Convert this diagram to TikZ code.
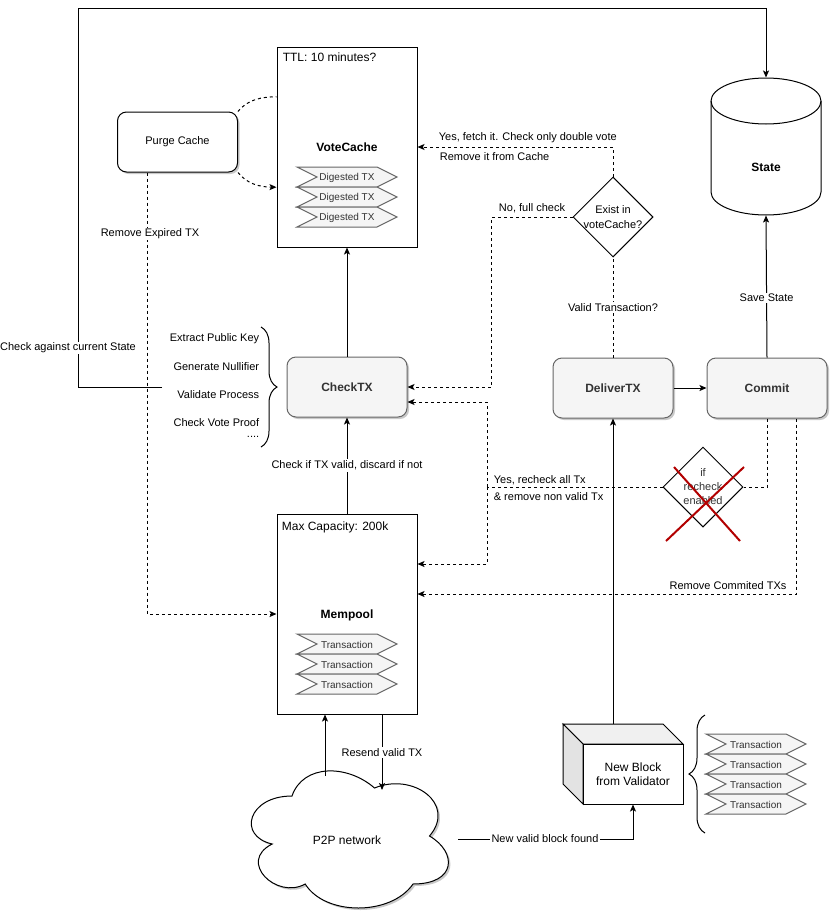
\documentclass[tikz,border=0pt]{standalone}
\usepackage{fontspec}
\setmainfont{Liberation Sans}
\usetikzlibrary{arrows.meta,shapes.geometric,shadows,decorations.pathreplacing,calc}
\definecolor{boxgray}{HTML}{F5F5F5}
\definecolor{edgegray}{HTML}{666666}
\definecolor{txtgray}{HTML}{333333}
\definecolor{xred}{HTML}{B20000}
\definecolor{cubetopc}{HTML}{F0F0F0}
\definecolor{cubeleftc}{HTML}{E3E3E3}
\newcommand{\lblfont}{\fontsize{8.25pt}{10.5pt}\selectfont}
\newcommand{\mainfontsz}{\fontsize{9pt}{10.5pt}\selectfont}
\newcommand{\boldfnt}{\fontsize{9pt}{10.5pt}\selectfont\bfseries}
\newcommand{\stepfnt}{\fontsize{7.5pt}{9pt}\selectfont}
\newcommand{\txstep}[4]{%
  \draw[draw=edgegray, fill=boxgray] (#2,#3) -- ++(80,0) -- ++(20,10) -- ++(-20,10) -- ++(-80,0) -- ++(20,-10) -- cycle;
  \node[font=\stepfnt, text=txtgray, inner sep=0pt] (#1) at (#2+50,#3+11) {#4};}
\begin{document}
\begin{tikzpicture}[x=0.75pt,y=-0.75pt,line width=0.75pt,
  lbl/.style={font=\lblfont, inner sep=1pt},
  lblbg/.style={lbl, fill=white},
  arr/.style={-{Stealth[length=5.25pt,width=4.5pt,inset=1.2pt]}},
  dsh/.style={dash pattern=on 2.25pt off 2.25pt},
  shd/.style={drop shadow={shadow xshift=1.5pt,shadow yshift=-1.5pt,opacity=0.3,fill=black!70}},
  bigbox/.style={draw, fill=white, minimum width=105pt, minimum height=150pt, inner sep=0pt},
  procbox/.style={draw=edgegray, fill=boxgray, rounded corners=6.75pt, minimum width=90pt, minimum height=45pt, inner sep=0pt, text=txtgray, font=\boldfnt, shd},
  purgebox/.style={draw, fill=white, rounded corners=6.75pt, minimum width=90pt, minimum height=45pt, inner sep=0pt, font=\lblfont, shd},
  decision/.style={diamond, draw, fill=white, minimum width=60pt, minimum height=60pt, inner sep=0pt, aspect=1},
  bracefx/.style={decorate, decoration={brace, amplitude=12pt}}
]
\useasboundingbox (0,0) rectangle (829,918);

% ---------- main boxes ----------
\node[bigbox] (votecache) at (347,147) {};
\node[font=\mainfontsz, inner sep=1pt, anchor=west] (ttl) at (281,57) {TTL: 10 minutes?};
\node[font=\boldfnt] (vctxt) at (347,147) {VoteCache};
\txstep{dg1}{297}{167}{Digested TX}
\txstep{dg2}{297}{187}{Digested TX}
\txstep{dg3}{297}{207}{Digested TX}

\node[bigbox] (mempool) at (347,614) {};
\node[font=\mainfontsz, inner sep=1pt, anchor=west] (cap) at (280,527) {Max Capacity: 200k};
\node[font=\boldfnt] (mptxt) at (347,615) {Mempool};
\txstep{mt1}{297}{634}{Transaction}
\txstep{mt2}{297}{654}{Transaction}
\txstep{mt3}{297}{674}{Transaction}

\node[purgebox] (purge) at (177.5,142) {Purge Cache};
\node[procbox] (checktx) at (347,387) {CheckTX};
\node[procbox] (deliver) at (613,388) {DeliverTX};
\node[procbox] (commit) at (767,388) {Commit};

% ---------- State cylinder ----------
\node[minimum width=82.5pt, minimum height=102.75pt, inner sep=0pt] (state) at (766,146.5) {};
\draw[fill=white] (711,101) .. controls (711,88.3) and (735.6,78) .. (766,78)
  .. controls (796.4,78) and (821,88.3) .. (821,101) -- (821,192)
  .. controls (821,204.7) and (796.4,215) .. (766,215)
  .. controls (735.6,215) and (711,204.7) .. (711,192) -- cycle;
\draw (711,101) .. controls (711,113.7) and (735.6,124) .. (766,124)
  .. controls (796.4,124) and (821,113.7) .. (821,101);
\node[font=\boldfnt] (statetxt) at (766,167) {State};

% ---------- decisions ----------
\node[decision] (exist) at (613,217) {};
\node[lbl, align=center, font=\fontsize{8.25pt}{11.25pt}\selectfont] (existtxt) at (exist.center) {Exist in\\voteCache?};
\node[decision] (recheck) at (703,487) {};
\node[lbl, align=center, text=txtgray] (rechecktxt) at (recheck.center) {if\\recheck\\enabled};
\draw[xred, line width=1.5pt] (666,541) -- (744,467);
\draw[xred, line width=1.5pt] (674,467) -- (740,541);

% ---------- brace + check labels ----------
\draw[bracefx] (261,327) -- (261,447);
\node[lbl, anchor=east] (l1) at (261,339) {Extract Public Key};
\node[lbl, anchor=east] (l2) at (261,367) {Generate Nullifier};
\node[lbl, anchor=east] (l3) at (261,395) {Validate Process};
\node[lbl, anchor=east] (l4) at (261,423) {Check Vote Proof};
\node[lbl, anchor=east] (l5) at (261,437) {....};

% ---------- new block cube ----------
\draw[fill=cubetopc] (563,724) -- (663,724) -- (683,744) -- (583,744) -- cycle;
\draw[fill=cubeleftc] (563,724) -- (583,744) -- (583,804) -- (563,784) -- cycle;
\node[draw, fill=white, minimum width=75pt, minimum height=45pt, inner sep=0pt, align=center, font=\mainfontsz] (nb) at (633,774) {New Block\\from Validator};
\coordinate (blocktop) at (613,724);

\draw[bracefx] (705,833) -- (705,715);
\txstep{bt1}{706}{734}{Transaction}
\txstep{bt2}{706}{754}{Transaction}
\txstep{bt3}{706}{774}{Transaction}
\txstep{bt4}{706}{794}{Transaction}

% ---------- cloud ----------
\path[draw, fill=white, shd] (292,796) .. controls (248,796) and (237,836) .. (272.2,844)
  .. controls (237,861.6) and (276.6,900) .. (305.2,884)
  .. controls (325,916) and (391,916) .. (413,884)
  .. controls (457,884) and (457,852) .. (429.5,836)
  .. controls (457,804) and (413,772) .. (374.5,788)
  .. controls (347,764) and (303,764) .. (292,796) -- cycle;
\node[font=\mainfontsz] (p2p) at (347,840) {P2P network};
\coordinate (cloudA) at (325,776);
\coordinate (cloudB) at (382,790);
\coordinate (cloudR) at (458,839);

% ---------- connectors ----------
\draw[arr] (checktx.north) -- (votecache.south);
\draw[arr] (mempool.north) -- node[lblbg] {Check if TX valid, discard if not} (checktx.south);
\draw[arr] (deliver.east) -- (commit.west);
\draw[arr] (commit.north) -- node[lblbg, pos=0.42] {Save State} (state.south);
\draw[dsh] (deliver.north) -- node[lblbg] {Valid Transaction?} (exist.south);
\draw[dsh, arr] (exist.north) |- (votecache.east);
\node[lbl, anchor=west] (yesfetch) at (437,138) {Yes, fetch it. Check only double vote};
\node[lbl, anchor=west] (remcache) at (438,157) {Remove it from Cache};
\draw[dsh, arr] (exist.west) -| ($(checktx.east)+(84,0)$) -- (checktx.east);
\node[lbl] (nofull) at (532,208) {No, full check};

\draw[dsh] (commit.south) |- (recheck.east);
\coordinate (rj) at (487,487);
\draw[dsh] (recheck.west) -- (rj);
\draw[dsh, arr] (rj) |- ($(checktx.east)+(0,15)$);
\draw[dsh, arr] (rj) |- ($(mempool.east)+(0,-50)$);
\node[lbl, anchor=west] (yesre) at (492,480) {Yes, recheck all Tx};
\node[lbl, anchor=west] (remnon) at (492,497) {\& remove non valid Tx};

\draw[dsh, arr] ($(commit.south)+(29,0)$) |- ($(mempool.east)+(0,-20)$);
\node[lbl] (remcom) at (728,586) {Remove Commited TXs};

\draw[dsh, arr] ($(purge.south west)!0.25!(purge.south east)$) |- (mempool.west);
\node[lblbg] (remexp) at (150,234) {Remove Expired TX};
\draw[dsh] (purge.north east) .. controls (248,99) and (262,97) .. ($(votecache.north west)!0.25!(votecache.south west)$);
\draw[dsh, arr] (purge.south east) .. controls (247,184) and (260,187) .. ($(votecache.north west)!0.7!(votecache.south west)$);

\coordinate (chk) at (162,387);
\coordinate (topleft) at (78,8);
\draw[arr] (chk) -| (topleft) -| (state.north);
\node[lblbg] (chkstate) at (68,348) {Check against current State};

\draw[arr] (cloudA) -- (cloudA |- mempool.south);
\draw[arr] (mempool.south -| cloudB) -- node[lblbg, pos=0.5] {Resend valid TX} (cloudB);
\draw[arr] (cloudR) -| (nb.south);
\node[lblbg] (newvalid) at (545,839) {New valid block found};
\draw[arr] (blocktop) -- (deliver.south);
\end{tikzpicture}
\end{document}
